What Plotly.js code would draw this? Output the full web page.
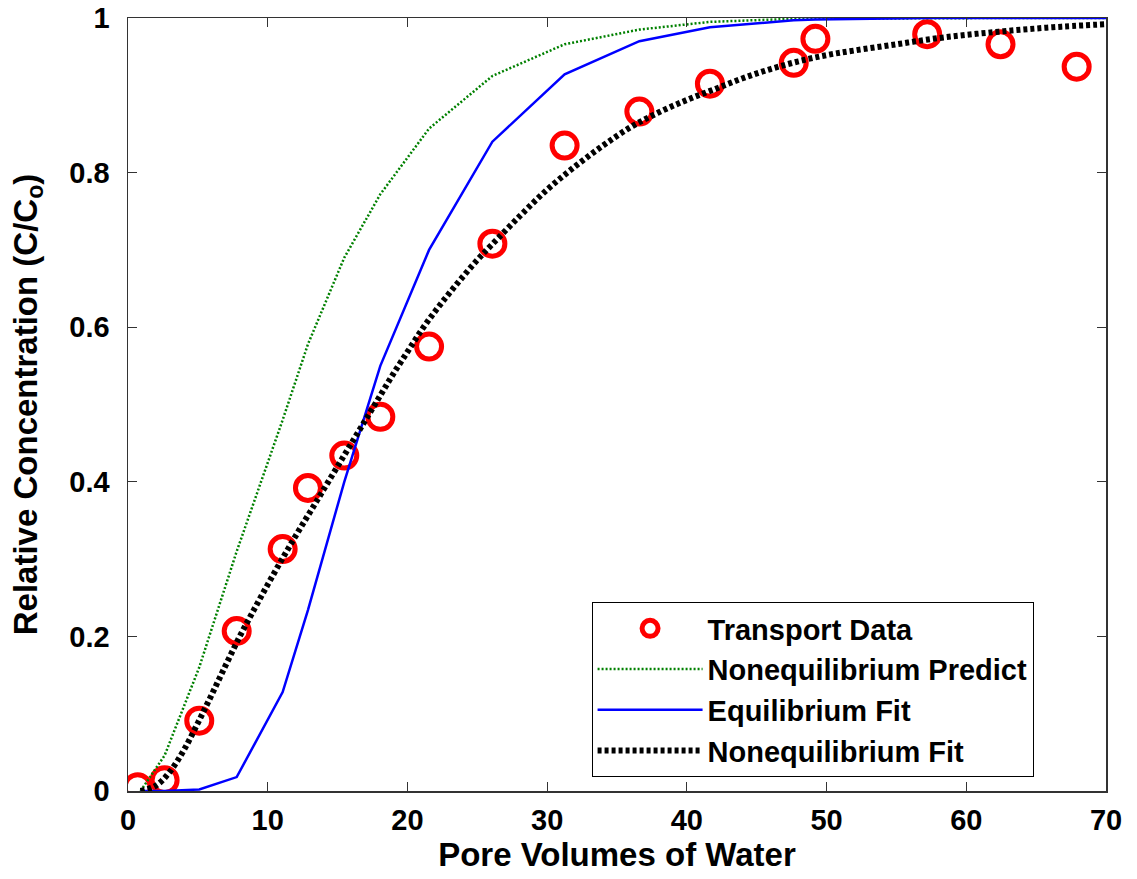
<!DOCTYPE html>
<html>
<head>
<meta charset="utf-8">
<script src="https://cdn.plot.ly/plotly-3.0.1.min.js"></script>
<style>
html,body{margin:0;padding:0;background:#fff;}
#chart{width:1137px;height:879px;}
</style>
</head>
<body>
<div id="chart"></div>
<script>
// Transport data (open red circles)
const dataX = [0.69, 2.62, 5.10, 7.78, 11.07, 12.88, 15.48, 18.06, 21.55, 26.08, 31.25, 36.60, 41.65, 47.65, 49.20, 57.20, 62.45, 67.90];
const dataY = [0.005, 0.014, 0.091, 0.207, 0.313, 0.392, 0.434, 0.484, 0.575, 0.708, 0.835, 0.879, 0.915, 0.942, 0.973, 0.979, 0.966, 0.937];

// Model curves evaluated at the same pore volumes
const modelX = [0.9, 2.62, 5.10, 7.78, 11.07, 12.88, 15.48, 18.06, 21.55, 26.08, 31.25, 36.60, 41.65, 47.65, 49.20, 57.20, 62.45, 67.90, 70];
const predictY = [0, 0.046, 0.16, 0.31, 0.48, 0.578, 0.69, 0.772, 0.857, 0.925, 0.966, 0.985, 0.995, 0.999, 0.999, 1.0, 1.0, 1.0, 1.0];
const eqFitY  = [0, 0, 0.002, 0.018, 0.128, 0.234, 0.40, 0.55, 0.70, 0.840, 0.927, 0.970, 0.988, 0.997, 0.998, 1.0, 1.0, 1.0, 1.0];

// Nonequilibrium fit (smooth curve)
const fitX = [0.9, 2, 3, 4, 5, 6, 7, 8, 9, 10, 11, 12, 13, 14, 15, 16, 17, 18, 19, 20, 21, 22, 23, 24, 25, 26, 28, 30, 32, 34, 36, 38, 40, 42, 44, 46, 48, 50, 52, 55, 58, 61, 64, 67, 70];
const fitY = [0, 0.007, 0.025, 0.053, 0.088, 0.125, 0.163, 0.2, 0.234, 0.267, 0.299, 0.33, 0.36, 0.39, 0.42, 0.45, 0.48, 0.51, 0.54, 0.568, 0.596, 0.621, 0.644, 0.666, 0.687, 0.706, 0.743, 0.778, 0.808, 0.835, 0.859, 0.878, 0.894, 0.908, 0.922, 0.934, 0.944, 0.952, 0.958, 0.966, 0.974, 0.98, 0.985, 0.989, 0.992];

const xTicks = [0, 10, 20, 30, 40, 50, 60, 70];
const yTicks = [0, 0.2, 0.4, 0.6, 0.8, 1];
const yTickText = ["0", "0.2", "0.4", "0.6", "0.8", "1"];

const FONT = "Liberation Sans, Arial, sans-serif";

const traces = [
  {
    x: dataX, y: dataY, type: "scatter", mode: "markers", name: "Transport Data",
    marker: {symbol: "circle-open", size: 25, color: "#ff0000", line: {color: "#ff0000", width: 5}}
  },
  {
    x: modelX, y: predictY, type: "scatter", mode: "lines", name: "Nonequilibrium Predict",
    line: {color: "#008000", width: 2.5, dash: "2px,2px"}
  },
  {
    x: modelX, y: eqFitY, type: "scatter", mode: "lines", name: "Equilibrium Fit",
    line: {color: "#0000ff", width: 2.5}
  },
  {
    x: fitX, y: fitY, type: "scatter", mode: "lines", name: "Nonequilibrium Fit",
    line: {color: "#000000", width: 6, dash: "4px,3px", shape: "spline"}
  }
];

const axisCommon = {
  showline: true, mirror: "ticks", linecolor: "#333333", linewidth: 1.5,
  ticks: "inside", ticklen: 9, tickwidth: 1.2, tickcolor: "#333333",
  showgrid: false, zeroline: false,
  tickfont: {family: FONT, size: 29, color: "#000", weight: "bold"}
};

const layout = {
  width: 1137, height: 879,
  margin: {l: 128, r: 31, t: 18, b: 88},
  paper_bgcolor: "#fff", plot_bgcolor: "#fff",
  showlegend: true,
  xaxis: Object.assign({}, axisCommon, {
    range: [0, 70], tickvals: xTicks, ticktext: xTicks.map(String),
    ticklabelstandoff: 3,
    title: {text: "Pore Volumes of Water", font: {family: FONT, size: 33, color: "#000", weight: "bold"}, standoff: 4}
  }),
  yaxis: Object.assign({}, axisCommon, {
    range: [0, 1], tickvals: yTicks, ticktext: yTickText,
    ticklabelstandoff: 11,
    title: {text: "Relative Concentration (C/C<sub>o</sub>)", font: {family: FONT, size: 33, color: "#000", weight: "bold"}, standoff: 22}
  }),
  legend: {
    x: 0.474, y: 0.2445, xanchor: "left", yanchor: "top",
    bgcolor: "#fff", bordercolor: "#000", borderwidth: 1,
    font: {family: FONT, size: 29, color: "#000", weight: "bold"},
    itemwidth: 105, tracegroupgap: 0
  }
};

Plotly.newPlot("chart", traces, layout, {displayModeBar: false, staticPlot: true});
</script>
</body>
</html>
